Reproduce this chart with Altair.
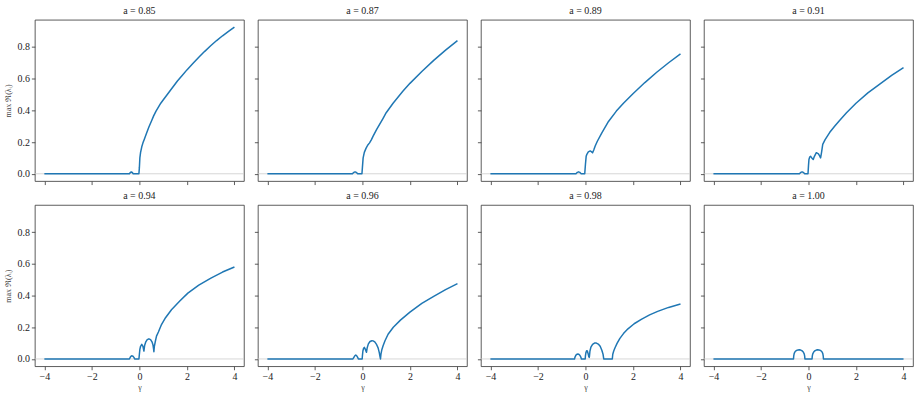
import altair as alt
import pandas as pd

A_LABELS = ["a = 0.85", "a = 0.87", "a = 0.89", "a = 0.91",
            "a = 0.94", "a = 0.96", "a = 0.98", "a = 1.00"]
X_TICKS = [-4, -2, 0, 2, 4]
Y_TICKS = [0.0, 0.2, 0.4, 0.6, 0.8]

G_085 = [-4.0, -0.42, -0.38, -0.34, -0.30, -0.26, -0.02, 0.0, 0.02, 0.05, 0.1, 0.15, 0.2, 0.3,
         0.4, 0.5, 0.6, 0.7, 0.8, 0.9, 1.0, 1.15, 1.3, 1.45, 1.6, 1.8, 2.0, 2.25, 2.5, 2.75,
         3.0, 3.25, 3.5, 3.75, 4.0]
V_085 = [0, 0, 0.008, 0.011, 0.008, 0, 0, 0.04, 0.10, 0.135, 0.17, 0.195, 0.215, 0.255,
         0.295, 0.33, 0.365, 0.395, 0.42, 0.445, 0.465, 0.495, 0.525, 0.555, 0.585, 0.62,
         0.655, 0.695, 0.735, 0.772, 0.807, 0.84, 0.87, 0.898, 0.925]

G_087 = [-4.0, -0.42, -0.36, -0.31, -0.26, -0.2, -0.02, 0.0, 0.03, 0.08, 0.15, 0.22, 0.3, 0.38,
         0.45, 0.6, 0.87, 1.0, 1.29, 1.7, 2.0, 2.5, 3.0, 3.5, 4.0]
V_087 = [0, 0, 0.009, 0.012, 0.009, 0, 0, 0.04, 0.10, 0.135, 0.16, 0.18, 0.195, 0.215,
         0.237, 0.28, 0.35, 0.385, 0.445, 0.52, 0.57, 0.645, 0.715, 0.78, 0.84]

G_089 = [-4.0, -0.40, -0.34, -0.29, -0.24, -0.18, -0.03, 0.0, 0.03, 0.06, 0.12, 0.2, 0.26, 0.3,
         0.35, 0.41, 0.5, 0.69, 0.97, 1.3, 1.6, 2.0, 2.5, 3.0, 3.5, 4.0]
V_089 = [0, 0, 0.009, 0.012, 0.009, 0, 0, 0.06, 0.11, 0.123, 0.138, 0.144, 0.138, 0.132,
         0.15, 0.175, 0.205, 0.258, 0.33, 0.395, 0.445, 0.505, 0.575, 0.64, 0.70, 0.756]

G_091 = [-4.0, -0.38, -0.32, -0.27, -0.22, -0.16, -0.02, 0.0, 0.02, 0.05, 0.09, 0.14, 0.2, 0.25,
         0.33, 0.42, 0.48, 0.51, 0.55, 0.6, 0.7, 0.89, 1.1, 1.3, 1.6, 2.0, 2.5, 3.0, 3.5, 4.0]
V_091 = [0, 0, 0.009, 0.012, 0.009, 0, 0, 0.05, 0.09, 0.105, 0.11, 0.10, 0.09, 0.11,
         0.133, 0.125, 0.11, 0.10, 0.135, 0.185, 0.215, 0.26, 0.30, 0.335, 0.385, 0.445, 0.51,
         0.565, 0.62, 0.67]

G_094 = [-4.0, -0.42, -0.38, -0.34, -0.31, -0.27, -0.23, -0.2, -0.02, 0.0, 0.02, 0.05, 0.1,
         0.15, 0.19, 0.22, 0.27, 0.33, 0.4, 0.47, 0.53, 0.57, 0.6, 0.61, 0.63, 0.67, 0.72, 0.8,
         0.93, 1.1, 1.35, 1.7, 2.04, 2.5, 3.01, 3.5, 4.0]
V_094 = [0, 0, 0.012, 0.019, 0.02, 0.017, 0.01, 0, 0, 0.03, 0.06, 0.08, 0.092,
         0.08, 0.05, 0.085, 0.108, 0.122, 0.127, 0.122, 0.108, 0.09, 0.06, 0.046, 0.08, 0.11,
         0.144, 0.17, 0.217, 0.26, 0.31, 0.365, 0.415, 0.465, 0.51, 0.548, 0.58]

G_096 = [-4.0, -0.40, -0.36, -0.32, -0.28, -0.24, -0.20, -0.17, -0.01, 0.0, 0.02, 0.05, 0.08,
         0.12, 0.17, 0.2, 0.25, 0.32, 0.4, 0.45, 0.52, 0.6, 0.66, 0.71, 0.74, 0.76, 0.78, 0.82,
         0.87, 0.95, 1.08, 1.3, 1.6, 2.0, 2.5, 3.0, 3.5, 4.0]
V_096 = [0, 0, 0.01, 0.02, 0.025, 0.02, 0.01, 0, 0, 0.02, 0.05, 0.068, 0.073,
         0.062, 0.042, 0.07, 0.095, 0.11, 0.115, 0.114, 0.108, 0.09, 0.07, 0.04, 0.015, 0, 0.03,
         0.06, 0.083, 0.115, 0.156, 0.2, 0.245, 0.295, 0.35, 0.395, 0.437, 0.475]

G_098 = [-4.0, -0.46, -0.44, -0.40, -0.35, -0.32, -0.28, -0.23, -0.19, -0.17, -0.01, 0.0, 0.02,
         0.05, 0.08, 0.11, 0.14, 0.16, 0.17, 0.19, 0.23, 0.3, 0.38, 0.46, 0.54, 0.62, 0.69, 0.74,
         0.77, 1.13, 1.15, 1.19, 1.24, 1.33, 1.45, 1.6, 1.79, 2.05, 2.35, 2.7, 3.04, 3.5, 4.0]
V_098 = [0, 0, 0.012, 0.024, 0.03, 0.031, 0.03, 0.022, 0.01, 0, 0, 0.02, 0.04,
         0.052, 0.05, 0.035, 0.015, 0.01, 0.02, 0.05, 0.075, 0.092, 0.1, 0.1, 0.094, 0.08, 0.055,
         0.03, 0, 0, 0.03, 0.05, 0.069, 0.098, 0.13, 0.16, 0.19, 0.222, 0.25, 0.278, 0.3,
         0.325, 0.346]

G_100 = [-4.0, -0.63, -0.62, -0.60, -0.56, -0.50, -0.44, -0.39, -0.33, -0.27, -0.22, -0.18,
         -0.16, -0.15, 0.15, 0.16, 0.18, 0.22, 0.27, 0.33, 0.39, 0.44, 0.50, 0.56, 0.60, 0.62,
         0.63, 4.0]
V_100 = [0, 0, 0.02, 0.035, 0.047, 0.054, 0.057, 0.058, 0.056, 0.052, 0.044, 0.032,
         0.018, 0, 0, 0.018, 0.032, 0.044, 0.052, 0.056, 0.058, 0.057, 0.054, 0.047, 0.035,
         0.02, 0, 0]

SERIES = [(G_085, V_085), (G_087, V_087), (G_089, V_089), (G_091, V_091),
          (G_094, V_094), (G_096, V_096), (G_098, V_098), (G_100, V_100)]

FONT = "Liberation Serif, DejaVu Serif, serif"
X_SCALE = alt.Scale(domain=[-4.4, 4.4], nice=False, zero=False)
Y_SCALE = alt.Scale(domain=[-0.046, 0.971], nice=False, zero=False)


def panel(i, label, g, v):
    row, col = divmod(i, 4)
    df = pd.DataFrame({"g": g, "v": v})
    bottom = row == 1
    left = col == 0
    x_axis = alt.Axis(values=X_TICKS, labels=bottom, format="d",
                      title="γ" if bottom else None, titlePadding=2)
    y_axis = alt.Axis(values=Y_TICKS, labels=left, format=".1f",
                      title="max ℜ(λᵢ)" if left else None)
    x = alt.X("g:Q", scale=X_SCALE, axis=x_axis)
    y = alt.Y("v:Q", scale=Y_SCALE, axis=y_axis)
    rule = alt.Chart(pd.DataFrame({"v": [0.0]})).mark_rule(
        color="#cccccc", strokeWidth=0.8).encode(y=y)
    line = alt.Chart(df).mark_line(
        color="#1f77b4", strokeWidth=1.5, strokeJoin="round").encode(x=x, y=y)
    return alt.layer(rule, line).properties(
        width=210, height=162,
        title=alt.TitleParams(label, fontSize=10, font=FONT, fontWeight="normal",
                              color="#222222", offset=4))


panels = [panel(i, A_LABELS[i], g, v) for i, (g, v) in enumerate(SERIES)]
row1 = alt.hconcat(*panels[:4], spacing=8)
row2 = alt.hconcat(*panels[4:], spacing=8)
chart = alt.vconcat(row1, row2, spacing=4).properties(
    padding={"left": 4, "top": 4, "right": 4, "bottom": 0}
).configure_view(
    stroke="#333333", strokeWidth=0.8
).configure_axis(
    domain=False, grid=False, tickColor="#333333", tickSize=3.5, tickWidth=0.8,
    labelFont=FONT, labelFontSize=10, labelColor="#222222", labelPadding=2,
    titleFont=FONT, titleFontSize=8, titleFontWeight="normal", titleColor="#444444",
    titlePadding=4
).configure_concat(spacing=8)

chart.save("out.html", embed_options={"renderer": "svg", "actions": False})
